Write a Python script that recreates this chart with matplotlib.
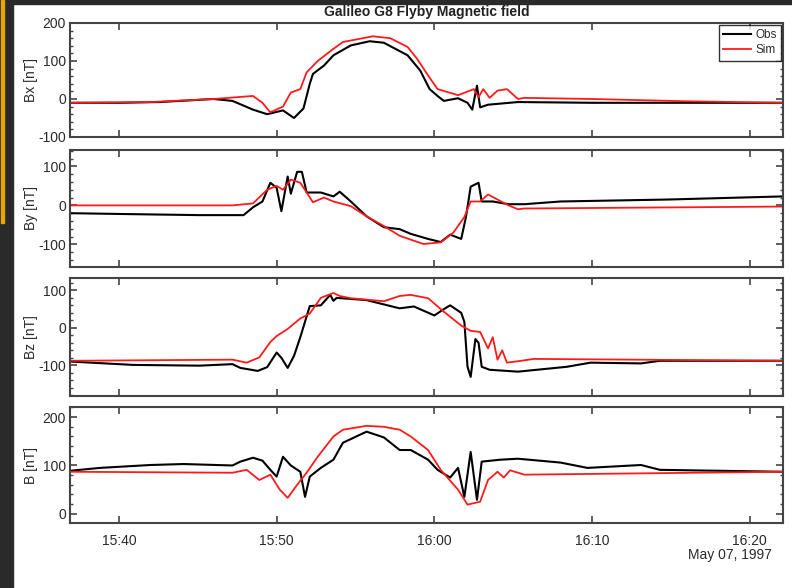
import numpy as np
import matplotlib
matplotlib.use("Agg")
import matplotlib.pyplot as plt
from matplotlib.patches import Rectangle
from matplotlib.ticker import MultipleLocator, FixedLocator

plt.rcParams['font.family'] = ['Liberation Sans', 'DejaVu Sans']
plt.rcParams['axes.unicode_minus'] = False

# time in minutes after 15:00 UT, May 07 1997
bx_obs_t = [36.9, 40.0, 42.6, 46.0, 47.2, 48.5, 49.4, 50.4, 51.1, 51.7, 52.1, 52.3, 53.0, 53.6,
            54.7, 55.9, 56.8, 58.3, 59.1, 59.7, 60.2, 60.6, 61.5, 62.1, 62.4, 62.7, 62.9, 63.4,
            65.3, 70.0, 82.1]
bx_obs = [-10, -10, -8, 0, -5, -28, -40, -30, -50, -25, 40, 66, 88, 115,
          141, 152, 148, 115, 75, 26, 8, -5, 2, -10, -28, 35, -22, -15,
          -8, -10, -10]
bx_sim_t = [36.9, 42.0, 46.0, 48.5, 49.1, 49.6, 50.4, 50.9, 51.5, 51.9, 52.6, 53.6, 54.2, 56.1,
            57.2, 58.3, 58.9, 59.6, 60.2, 61.5, 62.5, 62.8, 63.1, 63.5, 64.0, 64.6, 65.3, 65.7,
            70.0, 76.0, 82.1]
bx_sim = [-10, -8, 0, 8, -10, -35, -20, 17, 26, 70, 100, 132, 150, 165,
          160, 137, 106, 62, 26, 10, 26, 5, 26, 3, 22, 26, 0, 3,
          0, -6, -10]

by_obs_t = [36.9, 40.0, 45.1, 47.9, 48.5, 49.1, 49.6, 50.0, 50.3, 50.7, 50.9, 51.3, 51.6, 51.9,
            52.8, 53.6, 54.0, 54.7, 55.7, 56.8, 57.8, 58.5, 59.6, 60.4, 61.0, 61.7, 62.0, 62.3,
            62.8, 63.0, 63.7, 64.7, 65.7, 68.0, 74.8, 82.1]
by_obs = [-20, -22, -25, -25, -5, 10, 58, 45, -15, 74, 30, 86, 86, 33,
          33, 23, 35, 10, -28, -56, -61, -73, -86, -94, -75, -86, -30, 48,
          58, 10, 10, 3, 3, 10, 15, 23]
by_sim_t = [36.9, 47.2, 48.5, 49.4, 50.0, 50.4, 50.9, 51.5, 51.9, 52.3, 53.0, 53.6, 54.7, 55.7,
            56.8, 57.8, 59.3, 60.4, 61.2, 61.9, 62.3, 62.9, 63.4, 64.0, 64.7, 65.3, 65.7, 82.1]
by_sim = [0, 0, 5, 40, 50, 40, 66, 58, 33, 8, 20, 10, -2, -28,
          -53, -78, -99, -95, -70, -30, 10, 10, 28, 15, 0, -10, -8, -3]

bz_obs_t = [36.9, 40.9, 45.1, 47.2, 47.7, 48.8, 49.4, 50.0, 50.3, 50.7, 51.1, 51.5, 52.1, 52.8,
            53.4, 53.6, 53.8, 55.7, 57.8, 58.7, 60.0, 60.6, 61.0, 61.7, 61.9, 62.1, 62.3, 62.6,
            62.8, 63.0, 63.5, 65.3, 68.4, 69.9, 73.1, 74.3, 82.1]
bz_obs = [-90, -99, -101, -97, -107, -115, -105, -66, -80, -107, -75, -25, 58, 60,
          88, 72, 80, 74, 52, 57, 33, 50, 60, 40, 16, -104, -131, -30,
          -40, -104, -112, -117, -104, -93, -95, -88, -88]
bz_sim_t = [36.9, 47.2, 48.1, 48.9, 49.6, 50.0, 50.7, 51.5, 52.1, 52.8, 53.6, 54.0, 54.7, 56.8,
            57.8, 58.5, 59.6, 60.6, 61.7, 62.3, 62.9, 63.4, 63.7, 64.0, 64.3, 64.6, 65.5, 66.3,
            82.1]
bz_sim = [-88, -85, -93, -79, -38, -22, -3, 25, 38, 80, 93, 85, 79, 71,
          85, 88, 79, 43, 6, -8, -11, -55, -25, -85, -60, -93, -88, -83,
          -88]

b_obs_t = [36.9, 38.8, 42.0, 44.1, 47.2, 47.7, 48.5, 49.1, 49.6, 50.0, 50.4, 50.9, 51.5, 51.8,
           52.1, 52.8, 53.6, 54.2, 55.7, 56.8, 57.8, 58.5, 59.6, 60.2, 61.0, 61.5, 61.9, 62.3,
           62.7, 63.0, 64.2, 65.3, 68.0, 69.7, 73.1, 74.3, 82.1]
b_obs = [89, 95, 101, 103, 100, 108, 116, 110, 91, 77, 118, 100, 87, 35,
         77, 95, 112, 147, 170, 158, 132, 132, 112, 91, 75, 95, 35, 128,
         29, 108, 112, 114, 106, 95, 101, 91, 87]
b_sim_t = [36.9, 47.2, 48.1, 48.9, 49.6, 50.2, 50.7, 51.3, 51.9, 52.6, 53.6, 54.2, 55.7, 56.8,
           57.8, 58.5, 59.6, 60.4, 61.5, 62.1, 62.9, 63.4, 64.0, 64.4, 64.8, 65.7, 82.1]
b_sim = [87, 85, 91, 70, 81, 50, 33, 60, 85, 118, 160, 174, 182, 180,
         174, 160, 132, 91, 50, 19, 25, 70, 87, 75, 90, 81, 87]

panels = [
    ("Bx [nT]", bx_obs_t, bx_obs, bx_sim_t, bx_sim, (-100, 200), [-100, 0, 100, 200]),
    ("By [nT]", by_obs_t, by_obs, by_sim_t, by_sim, (-158, 142), [-100, 0, 100]),
    ("Bz [nT]", bz_obs_t, bz_obs, bz_sim_t, bz_sim, (-182, 133), [-100, 0, 100]),
    ("B [nT]", b_obs_t, b_obs, b_sim_t, b_sim, (-19, 221), [0, 100, 200]),
]
time_ticks = [40, 50, 60, 70, 80]
time_labels = ["15:40", "15:50", "16:00", "16:10", "16:20"]

W, H = 792, 588
fig = plt.figure(figsize=(W / 100, H / 100), dpi=100)
fig.patch.set_facecolor("white")

# dark slide border with yellow edge
fig.patches.append(Rectangle((0, 0), 13 / W, 1, transform=fig.transFigure,
                             color="#2a2a2a", zorder=0))
fig.patches.append(Rectangle((0, 1 - 4 / H), 1, 4 / H, transform=fig.transFigure,
                             color="#2a2a2a", zorder=0))
fig.patches.append(Rectangle((1 / W, 1 - 223 / H), 3 / W, 223 / H, transform=fig.transFigure,
                             color="#e6a800", zorder=1))

boxes = [(23, 137), (150, 267), (278, 396), (407, 523)]
x0, x1 = 70, 783
txt = "#2a2a2a"
axes = []
for (label, to, yo, ts, ys, ylim, yt), (top, bot) in zip(panels, boxes):
    ax = fig.add_axes([x0 / W, 1 - bot / H, (x1 - x0) / W, (bot - top) / H])
    ax.plot(to, yo, color="black", lw=1.5, label="Obs")
    ax.plot(ts, ys, color="#ff1a1a", lw=1.3, label="Sim")
    ax.set_xlim(36.9, 82.1)
    ax.set_ylim(*ylim)
    ax.yaxis.set_major_locator(FixedLocator(yt))
    ax.yaxis.set_minor_locator(MultipleLocator(20))
    ax.xaxis.set_major_locator(FixedLocator(time_ticks))
    ax.set_xticklabels(time_labels)
    ax.tick_params(which="major", direction="in", length=5, width=1.2, top=True, right=True,
                   labelsize=10, labelcolor=txt, color="#444444", pad=3)
    ax.tick_params(axis="x", pad=8)
    ax.tick_params(which="minor", direction="in", length=2.5, width=1.0, right=True,
                   color="#444444")
    ax.set_ylabel(label, fontsize=10, color=txt)
    ax.yaxis.set_label_coords(-0.045, 0.5)
    for s in ax.spines.values():
        s.set_color("#444444")
        s.set_linewidth(1.5)
    axes.append(ax)

for ax in axes[:-1]:
    ax.tick_params(labelbottom=False)

axes[0].set_title("Galileo G8 Flyby Magnetic field", fontsize=10, fontweight="bold",
                  color="#222222", pad=5)
leg = axes[0].legend(loc="upper right", fontsize=8.5, frameon=True, fancybox=False,
                     handlelength=2.4, borderpad=0.35, labelspacing=0.3, handletextpad=0.4,
                     borderaxespad=0.15)
leg.get_frame().set_edgecolor("black")
leg.get_frame().set_linewidth(1.0)
for t in leg.get_texts():
    t.set_color(txt)

fig.text(772 / W, 1 - 555 / H, "May 07, 1997", ha="right", va="center",
         fontsize=10, color=txt)

fig.savefig("out.png", dpi=100)
